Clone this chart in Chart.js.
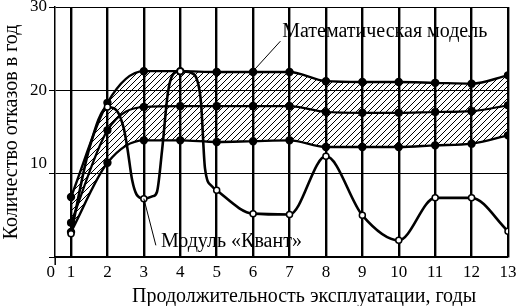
<!DOCTYPE html>
<html><head><meta charset="utf-8">
<script src="https://cdn.jsdelivr.net/npm/chart.js@4/dist/chart.umd.min.js"></script>
<style>html,body{margin:0;padding:0;background:#fff;}canvas{display:block;}</style>
</head><body>
<canvas id="c" width="517" height="306"></canvas>
<script>
const years = [1,2,3,4,5,6,7,8,9,10,11,12,13];
const upperBand  = [7.2, 18.5, 22.3, 22.3, 22.2, 22.2, 22.2, 21.1, 21.0, 21.0, 20.9, 20.8, 21.8];
const middleBand = [4.1, 15.2, 18.0, 18.1, 18.1, 18.1, 18.1, 17.4, 17.3, 17.3, 17.4, 17.5, 18.2];
const lowerBand  = [3.0, 11.3, 14.0, 14.0, 13.8, 13.9, 14.0, 13.2, 13.2, 13.2, 13.4, 13.6, 14.6];
const kvantX = [1, 1.5, 2, 2.25, 2.45, 2.55, 2.68, 2.8, 3, 3.25, 3.36, 3.5, 3.66, 3.8, 4, 4.3, 4.48, 4.57, 4.68, 4.87, 5, 6, 7, 8, 9, 10, 11, 12, 13];
const kvantY = [2.8, 13, 18, 17.6, 15.4, 13, 9.2, 7.5, 7.0, 7.3, 7.8, 12.8, 19.7, 21.9, 22.3, 22.1, 21, 18.5, 10.6, 8.5, 8.0, 5.2, 5.1, 12.1, 5.0, 2.0, 7.1, 7.1, 3.1];
const yGridValues = [0,5,10,15,20,25,30];
const yLabeledValues = [10,20,30];
const originLabel = '0  ';
const xTitle = 'Продолжительность эксплуатации, годы';
const yTitle = 'Количество отказов в год';
const modelLabel = 'Математическая модель';
const kvantLabel = 'Модуль «Квант»';

const FONT = 'Liberation Serif, Times New Roman, serif';
const X_MIN = 0.56;

function hatch(){
  const c = document.createElement('canvas'); c.width = 6; c.height = 6;
  const g = c.getContext('2d');
  g.strokeStyle = '#000'; g.lineWidth = 1;
  g.beginPath();
  g.moveTo(-1,7); g.lineTo(7,-1);
  g.moveTo(-4,4); g.lineTo(4,-4);
  g.moveTo(2,10); g.lineTo(10,2);
  g.stroke();
  return g.createPattern(c,'repeat');
}
const pts = (xs, ys) => xs.map((x,i)=>({x, y: ys[i]}));
const onInt = ctx => (ctx.raw && Number.isInteger(ctx.raw.x)) ? 3 : 0;

const annot = {
  id: 'annot',
  afterDraw(chart){
    const {ctx, scales:{x, y}} = chart;
    ctx.save();
    ctx.fillStyle = '#000'; ctx.strokeStyle = '#000';
    ctx.font = '20px ' + FONT;
    ctx.textAlign = 'center'; ctx.textBaseline = 'middle';
    ctx.fillText(xTitle, x.getPixelForValue(7.4), 297);
    ctx.textAlign = 'left';
    ctx.fillText(modelLabel, x.getPixelForValue(6.8), y.getPixelForValue(27));
    ctx.lineWidth = 1;
    ctx.beginPath();
    ctx.moveTo(x.getPixelForValue(6.0), y.getPixelForValue(22.3));
    ctx.lineTo(x.getPixelForValue(6.75), y.getPixelForValue(25.9));
    ctx.stroke();
    ctx.fillText(kvantLabel, x.getPixelForValue(3.47), y.getPixelForValue(1.8));
    ctx.beginPath();
    ctx.moveTo(x.getPixelForValue(3.0), y.getPixelForValue(7.0));
    ctx.lineTo(x.getPixelForValue(3.33), y.getPixelForValue(1.4));
    ctx.stroke();
    ctx.restore();
  }
};

new Chart(document.getElementById('c'), {
  type: 'line',
  data: {
    datasets: [
      { label: kvantLabel, data: pts(kvantX, kvantY), borderColor: '#000', borderWidth: 2.6,
        pointRadius: onInt, pointBackgroundColor: '#fff', pointBorderColor: '#000', pointBorderWidth: 1.5,
        cubicInterpolationMode: 'monotone', fill: false },
      { label: 'upper', data: pts(years, upperBand), borderColor: '#000', borderWidth: 2.4,
        pointRadius: 3, pointBackgroundColor: '#000', pointBorderColor: '#000',
        cubicInterpolationMode: 'monotone', fill: { target: '+2' }, backgroundColor: hatch() },
      { label: 'middle', data: pts(years, middleBand), borderColor: '#000', borderWidth: 2.2,
        pointRadius: 3, pointBackgroundColor: '#000', pointBorderColor: '#000',
        cubicInterpolationMode: 'monotone', fill: false },
      { label: 'lower', data: pts(years, lowerBand), borderColor: '#000', borderWidth: 2.4,
        pointRadius: 3, pointBackgroundColor: '#000', pointBorderColor: '#000',
        cubicInterpolationMode: 'monotone', fill: false }
    ]
  },
  options: {
    responsive: false, animation: false, devicePixelRatio: 1,
    layout: { padding: { top: 7, right: 9, left: 0, bottom: 0 } },
    plugins: { legend: { display: false }, tooltip: { enabled: false }, filler: { drawTime: 'beforeDatasetsDraw' } },
    scales: {
      x: {
        type: 'linear', min: X_MIN, max: 13,
        afterBuildTicks: s => { s.ticks = [{value: X_MIN}].concat(years.map(v => ({value: v}))); },
        afterFit: s => { s.height = 49; s.paddingLeft = 0; s.paddingRight = 0; },
        ticks: { font: { family: FONT, size: 17 }, color: '#000', padding: -3, maxRotation: 0, autoSkip: false,
          callback: v => v === X_MIN ? originLabel : String(v) },
        grid: { color: c => (c.tick && c.tick.value === X_MIN) ? 'rgba(0,0,0,0)' : '#000',
                lineWidth: 2.4, tickLength: 8,
                tickColor: c => (c.tick && c.tick.value === X_MIN) ? '#000' : 'rgba(0,0,0,0)', tickWidth: 1.5 },
        border: { color: '#000', width: 1.5 }
      },
      y: {
        min: 0, max: 30,
        afterBuildTicks: s => { s.ticks = yGridValues.map(v => ({value: v})); },
        afterFit: s => { s.width = 55; s.paddingTop = 0; s.paddingBottom = 0; },
        ticks: { font: { family: FONT, size: 17 }, color: '#000', padding: 2,
          callback: v => v === 10 ? ['10',''] : (yLabeledValues.includes(v) ? String(v) : '') },
        grid: { color: '#000', lineWidth: 1, tickLength: 6,
                tickColor: c => (c.tick && (c.tick.value % 10 === 0)) ? '#000' : 'rgba(0,0,0,0)' },
        border: { color: '#000', width: 1.5 },
        title: { display: true, text: yTitle, font: { family: FONT, size: 20 }, color: '#000', padding: 0 }
      }
    }
  },
  plugins: [annot]
});
</script>
</body></html>
